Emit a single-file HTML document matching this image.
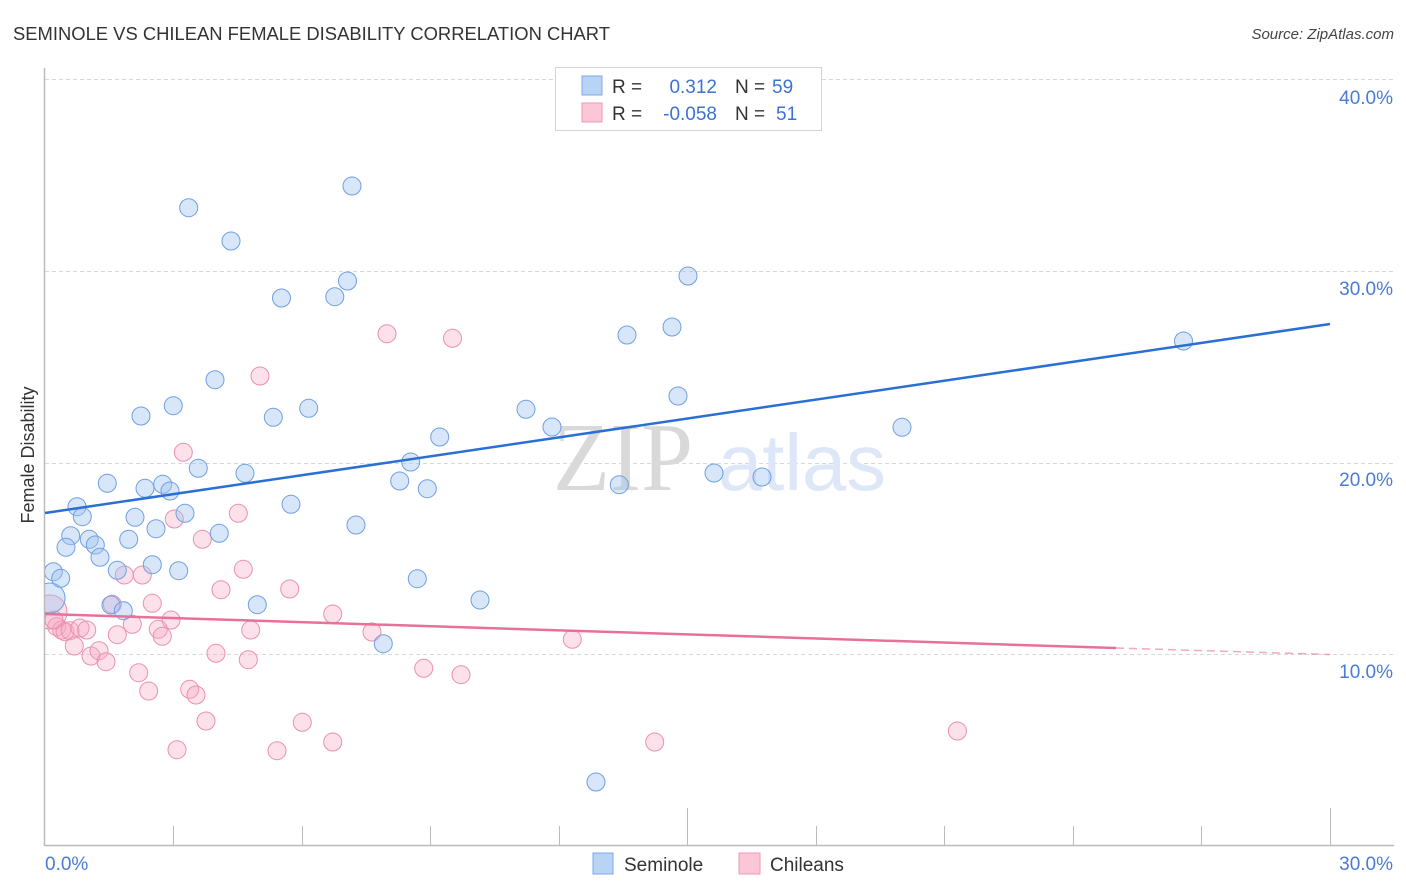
<!DOCTYPE html>
<html>
<head>
<meta charset="utf-8">
<style>
html,body{margin:0;padding:0;background:#fff;}
svg{display:block;font-family:"Liberation Sans",sans-serif;}
</style>
</head>
<body>
<svg width="1406" height="892" viewBox="0 0 1406 892" xmlns="http://www.w3.org/2000/svg">
<defs>
<clipPath id="plot" clipPathUnits="userSpaceOnUse"><rect x="45" y="60" width="1350" height="785"/></clipPath>
</defs>
<rect width="1406" height="892" fill="#fff"/>
<text x="13" y="40" font-size="18" fill="#333" textLength="597" lengthAdjust="spacingAndGlyphs">SEMINOLE VS CHILEAN FEMALE DISABILITY CORRELATION CHART</text>
<text x="1394" y="39" font-size="15" fill="#444" font-style="italic" text-anchor="end">Source: ZipAtlas.com</text>
<g stroke="#d8d8d8" stroke-width="1" stroke-dasharray="4,3">
<line x1="45" y1="79.5" x2="1393" y2="79.5"/>
<line x1="45" y1="271.5" x2="1393" y2="271.5"/>
<line x1="45" y1="463.5" x2="1393" y2="463.5"/>
<line x1="45" y1="654.5" x2="1393" y2="654.5"/>
</g>
<text x="553" y="490" font-family="Liberation Serif,serif" font-size="98" fill="#d9d9d9" textLength="140" lengthAdjust="spacingAndGlyphs">ZIP</text>
<text x="718" y="490" font-family="Liberation Sans,sans-serif" font-size="80" fill="#dde7f7" textLength="168" lengthAdjust="spacingAndGlyphs">atlas</text>
<line x1="44.5" y1="68" x2="44.5" y2="846" stroke="#bbb" stroke-width="1.5"/>
<line x1="44" y1="845.5" x2="1394" y2="845.5" stroke="#bbb" stroke-width="1.5"/>
<g stroke="#bbb" stroke-width="1">
<line x1="173.5" y1="826" x2="173.5" y2="845"/>
<line x1="302.5" y1="826" x2="302.5" y2="845"/>
<line x1="430.5" y1="826" x2="430.5" y2="845"/>
<line x1="559.5" y1="826" x2="559.5" y2="845"/>
<line x1="687.5" y1="808" x2="687.5" y2="845"/>
<line x1="816.5" y1="826" x2="816.5" y2="845"/>
<line x1="944.5" y1="826" x2="944.5" y2="845"/>
<line x1="1073.5" y1="826" x2="1073.5" y2="845"/>
<line x1="1201.5" y1="826" x2="1201.5" y2="845"/>
<line x1="1330.5" y1="808" x2="1330.5" y2="845"/>
</g>
<g font-size="19" fill="#4a7bd4" text-anchor="end">
<text x="1393" y="104">40.0%</text>
<text x="1393" y="295">30.0%</text>
<text x="1393" y="486">20.0%</text>
<text x="1393" y="678">10.0%</text>
</g>
<text x="45" y="870" font-size="19" fill="#4a7bd4">0.0%</text>
<text x="1393" y="870" font-size="19" fill="#4a7bd4" text-anchor="end">30.0%</text>
<text transform="translate(34,455) rotate(-90)" font-size="18" fill="#333" text-anchor="middle">Female Disability</text>
<g clip-path="url(#plot)">
<g fill="rgba(246,170,196,0.35)" stroke="#eb8fb0" stroke-width="1">
<circle cx="50" cy="612" r="17"/>
<circle cx="56.7" cy="626.7" r="9"/>
<circle cx="61.7" cy="630" r="9"/>
<circle cx="65" cy="631.7" r="9"/>
<circle cx="70" cy="630.7" r="9"/>
<circle cx="80" cy="628" r="9"/>
<circle cx="86.7" cy="630" r="9"/>
<circle cx="387" cy="333.7" r="9"/>
<circle cx="452.5" cy="338.3" r="9"/>
<circle cx="260" cy="376" r="9"/>
<circle cx="183.3" cy="452.3" r="9"/>
<circle cx="238.3" cy="513.3" r="9"/>
<circle cx="174.3" cy="519" r="9"/>
<circle cx="202.3" cy="539.3" r="9"/>
<circle cx="243.3" cy="569.3" r="9"/>
<circle cx="221" cy="589.7" r="9"/>
<circle cx="289.7" cy="589" r="9"/>
<circle cx="124.3" cy="575" r="9"/>
<circle cx="142.3" cy="575" r="9"/>
<circle cx="112.3" cy="604.3" r="9"/>
<circle cx="152.3" cy="603.3" r="9"/>
<circle cx="332.7" cy="614" r="9"/>
<circle cx="171" cy="620" r="9"/>
<circle cx="132.3" cy="624.3" r="9"/>
<circle cx="158.3" cy="629.3" r="9"/>
<circle cx="162.3" cy="636.3" r="9"/>
<circle cx="117.3" cy="634.7" r="9"/>
<circle cx="250.7" cy="630" r="9"/>
<circle cx="372" cy="632" r="9"/>
<circle cx="572.3" cy="639.3" r="9"/>
<circle cx="216" cy="653.3" r="9"/>
<circle cx="248.3" cy="659.7" r="9"/>
<circle cx="74.3" cy="646" r="9"/>
<circle cx="91" cy="656" r="9"/>
<circle cx="99" cy="650.7" r="9"/>
<circle cx="106" cy="661.7" r="9"/>
<circle cx="138.7" cy="672.7" r="9"/>
<circle cx="423.7" cy="668.3" r="9"/>
<circle cx="461" cy="674.7" r="9"/>
<circle cx="148.7" cy="691" r="9"/>
<circle cx="189.7" cy="689.3" r="9"/>
<circle cx="196" cy="695" r="9"/>
<circle cx="206" cy="721" r="9"/>
<circle cx="302.3" cy="722.3" r="9"/>
<circle cx="957.4" cy="731" r="9"/>
<circle cx="332.7" cy="742" r="9"/>
<circle cx="654.7" cy="742" r="9"/>
<circle cx="177" cy="749.7" r="9"/>
<circle cx="277" cy="750.7" r="9"/>
<circle cx="54" cy="620" r="9"/>
</g>
<g fill="rgba(160,196,240,0.42)" stroke="#6f9fe2" stroke-width="1">
<circle cx="50" cy="598" r="15"/>
<circle cx="352" cy="186" r="9"/>
<circle cx="188.7" cy="207.7" r="9"/>
<circle cx="231" cy="241" r="9"/>
<circle cx="347.5" cy="281" r="9"/>
<circle cx="281.5" cy="298" r="9"/>
<circle cx="334.8" cy="296.7" r="9"/>
<circle cx="688" cy="276" r="9"/>
<circle cx="672" cy="327" r="9"/>
<circle cx="627" cy="335" r="9"/>
<circle cx="1183.5" cy="341" r="9"/>
<circle cx="215" cy="379.7" r="9"/>
<circle cx="173.3" cy="405.7" r="9"/>
<circle cx="141" cy="416" r="9"/>
<circle cx="308.7" cy="408.3" r="9"/>
<circle cx="273.3" cy="417.3" r="9"/>
<circle cx="526" cy="409.3" r="9"/>
<circle cx="678" cy="396" r="9"/>
<circle cx="552" cy="427" r="9"/>
<circle cx="439.7" cy="437" r="9"/>
<circle cx="902" cy="427.3" r="9"/>
<circle cx="410.7" cy="462" r="9"/>
<circle cx="198.3" cy="468.3" r="9"/>
<circle cx="245" cy="473.3" r="9"/>
<circle cx="107.3" cy="483.3" r="9"/>
<circle cx="145" cy="488.3" r="9"/>
<circle cx="162.7" cy="484.3" r="9"/>
<circle cx="170" cy="491" r="9"/>
<circle cx="399.7" cy="481" r="9"/>
<circle cx="427.3" cy="488.7" r="9"/>
<circle cx="619.3" cy="484.7" r="9"/>
<circle cx="714" cy="473" r="9"/>
<circle cx="762" cy="477" r="9"/>
<circle cx="291" cy="504.3" r="9"/>
<circle cx="77" cy="506.7" r="9"/>
<circle cx="82.3" cy="516.7" r="9"/>
<circle cx="185" cy="513.3" r="9"/>
<circle cx="135" cy="517.3" r="9"/>
<circle cx="356" cy="525" r="9"/>
<circle cx="156" cy="528.7" r="9"/>
<circle cx="219.3" cy="533.3" r="9"/>
<circle cx="70.7" cy="535.7" r="9"/>
<circle cx="89.3" cy="539.3" r="9"/>
<circle cx="128.7" cy="539.3" r="9"/>
<circle cx="95.3" cy="545" r="9"/>
<circle cx="66" cy="547.3" r="9"/>
<circle cx="100" cy="557.3" r="9"/>
<circle cx="152.3" cy="564.7" r="9"/>
<circle cx="117.3" cy="570.3" r="9"/>
<circle cx="178.7" cy="570.7" r="9"/>
<circle cx="53.3" cy="571.7" r="9"/>
<circle cx="60.7" cy="578.3" r="9"/>
<circle cx="417.3" cy="578.7" r="9"/>
<circle cx="480" cy="600" r="9"/>
<circle cx="111" cy="605" r="9"/>
<circle cx="257.3" cy="604.7" r="9"/>
<circle cx="123.3" cy="610.7" r="9"/>
<circle cx="383.3" cy="643.7" r="9"/>
<circle cx="596" cy="782" r="9"/>
</g>
</g>
<line x1="45" y1="513" x2="1330" y2="324" stroke="#2a6fd6" stroke-width="2.5"/>
<line x1="45" y1="614" x2="1116" y2="648" stroke="#e8709a" stroke-width="2.5"/>
<line x1="1116" y1="648" x2="1330" y2="654.5" stroke="#e8709a" stroke-width="1.5" stroke-dasharray="8,5" opacity="0.6"/>
<rect x="555.5" y="67.5" width="266" height="63" fill="#fff" stroke="#d4d4d4" stroke-width="1"/>
<rect x="582" y="76" width="20" height="19" fill="#b9d3f5" stroke="#7ea8e6" stroke-width="1"/>
<rect x="582" y="103" width="20" height="19" fill="#fbc7d7" stroke="#ee9ab7" stroke-width="1"/>
<g font-size="19">
<text x="612" y="93" fill="#333">R =</text>
<text x="717" y="93" fill="#3b72d4" text-anchor="end">0.312</text>
<text x="735" y="93" fill="#333">N =</text>
<text x="772" y="93" fill="#3b72d4">59</text>
<text x="612" y="120" fill="#333">R =</text>
<text x="717" y="120" fill="#3b72d4" text-anchor="end">-0.058</text>
<text x="735" y="120" fill="#333">N =</text>
<text x="776" y="120" fill="#3b72d4">51</text>
</g>
<rect x="593" y="853" width="20" height="21" fill="#b9d3f5" stroke="#7ea8e6" stroke-width="1"/>
<text x="624" y="871" font-size="19" fill="#333">Seminole</text>
<rect x="739" y="853" width="21" height="21" fill="#fbc7d7" stroke="#ee9ab7" stroke-width="1"/>
<text x="770" y="871" font-size="19" fill="#333">Chileans</text>
</svg>
</body>
</html>
